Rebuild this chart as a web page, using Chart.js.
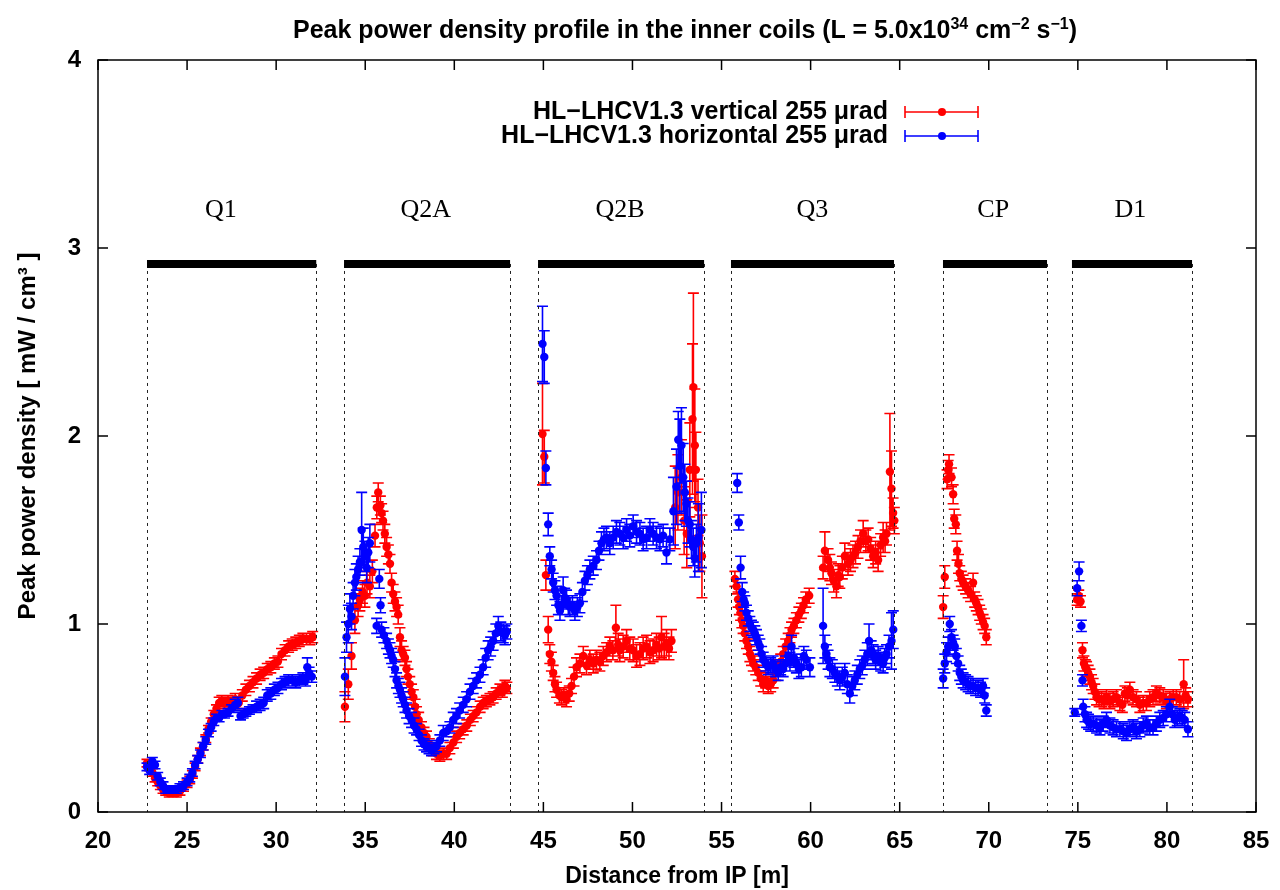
<!DOCTYPE html>
<html>
<head>
<meta charset="utf-8">
<script src="https://cdn.jsdelivr.net/npm/chart.js@4.4.1/dist/chart.umd.min.js"></script>
<style>
  body { margin: 0; background: #fff; }
  #wrap { position: relative; width: 1280px; height: 890px; }
  #title {
    position: absolute; top: 15px; left: 45px; width: 1280px;
    text-align: center; font: bold 25px 'Liberation Sans', Arial, sans-serif; color: #000;
  }
  #title sup { font-size: 16px; }
</style>
</head>
<body>
<div id="wrap">
  <canvas id="chart" width="1280" height="890"></canvas>
  <div id="title">Peak power density profile in the inner coils (L = 5.0x10<sup>34</sup> cm<sup>−2</sup> s<sup>−1</sup>)</div>
</div>
<script>
// Axis ticks
const xTicks = [20, 25, 30, 35, 40, 45, 50, 55, 60, 65, 70, 75, 80, 85];
const yTicks = [0, 1, 2, 3, 4];

// Magnets along the beam line [m]
const magnetNames = ['Q1', 'Q2A', 'Q2B', 'Q3', 'CP', 'D1'];
const magnetStart = [22.75, 33.81, 44.70, 55.53, 67.43, 74.67];
const magnetEnd   = [32.25, 43.13, 54.02, 64.68, 73.27, 81.41];
const magnetLabelX = [26.9, 38.4, 49.3, 60.1, 70.25, 77.95];
const magnetLevel = 2.915;
const magnetLabelLevel = 3.2;

// Series labels
const seriesNames = ['HL−LHCV1.3 vertical 255 μrad', 'HL−LHCV1.3 horizontal 255 μrad'];

// [distance, power density, error] -- vertical crossing
const verticalQ1 = [
  [22.75,0.26,0.02],[22.9,0.24,0.02],[23.05,0.21,0.02],[23.2,0.18,0.02],[23.35,0.16,0.02],[23.5,0.14,0.02],
  [23.65,0.12,0.02],[23.8,0.11,0.02],[24.0,0.10,0.02],[24.2,0.10,0.02],[24.4,0.10,0.02],[24.6,0.11,0.02],
  [24.8,0.13,0.02],[25.0,0.15,0.02],[25.15,0.17,0.02],[25.3,0.20,0.02],[25.45,0.24,0.02],[25.6,0.28,0.02],
  [25.75,0.32,0.02],[25.9,0.35,0.02],[26.05,0.39,0.02],[26.2,0.44,0.02],[26.35,0.48,0.02],[26.5,0.52,0.02],
  [26.65,0.55,0.02],[26.8,0.58,0.03],[26.95,0.59,0.03],[27.1,0.58,0.03],[27.3,0.59,0.03],[27.5,0.58,0.03],
  [27.7,0.60,0.03],[27.9,0.58,0.03],[28.1,0.62,0.03],[28.3,0.65,0.03],[28.5,0.67,0.03],[28.7,0.69,0.03],
  [28.9,0.71,0.03],[29.1,0.73,0.03],[29.3,0.74,0.03],[29.5,0.76,0.03],[29.7,0.77,0.03],[29.9,0.79,0.03],
  [30.1,0.80,0.03],[30.3,0.84,0.03],[30.5,0.86,0.03],[30.7,0.88,0.03],[30.9,0.89,0.03],[31.1,0.90,0.03],
  [31.3,0.91,0.03],[31.5,0.92,0.03],[31.7,0.92,0.03],[31.9,0.92,0.03],[32.05,0.93,0.03]
];
const verticalQ2A = [
  [33.86,0.56,0.08],[34.05,0.68,0.08],[34.23,0.83,0.07],[34.42,1.02,0.07],[34.6,1.10,0.06],[34.7,1.13,0.06],
  [34.85,1.17,0.06],[34.98,1.15,0.06],[35.1,1.22,0.06],[35.26,1.20,0.06],[35.4,1.28,0.06],[35.55,1.47,0.06],
  [35.65,1.62,0.06],[35.73,1.70,0.05],[35.85,1.63,0.05],[35.92,1.59,0.05],[36.0,1.55,0.05],[36.1,1.48,0.05],
  [36.2,1.41,0.05],[36.3,1.37,0.05],[36.39,1.32,0.05],[36.48,1.22,0.05],[36.57,1.16,0.05],[36.67,1.12,0.05],
  [36.76,1.09,0.05],[36.85,1.05,0.05],[36.95,0.93,0.05],[37.04,0.86,0.05],[37.13,0.84,0.04],[37.23,0.82,0.04],
  [37.32,0.76,0.04],[37.4,0.72,0.04],[37.5,0.68,0.04],[37.6,0.64,0.04],[37.7,0.61,0.04],[37.8,0.56,0.04],
  [37.88,0.52,0.04],[38.0,0.49,0.04],[38.16,0.45,0.03],[38.3,0.42,0.03],[38.44,0.40,0.03],[38.6,0.36,0.03],
  [38.82,0.33,0.03],[39.0,0.31,0.03],[39.19,0.30,0.03],[39.4,0.31,0.03],[39.57,0.31,0.03],[39.75,0.34,0.03],
  [39.95,0.37,0.03],[40.13,0.40,0.03],[40.3,0.42,0.03],[40.5,0.44,0.03],[40.7,0.46,0.03],[40.9,0.49,0.03],
  [41.06,0.51,0.03],[41.25,0.53,0.03],[41.45,0.56,0.03],[41.62,0.58,0.03],[41.8,0.59,0.03],[42.0,0.60,0.03],
  [42.18,0.61,0.03],[42.35,0.63,0.03],[42.56,0.65,0.03],[42.7,0.64,0.03],[42.84,0.67,0.03],[42.95,0.66,0.03]
];
const verticalQ2B = [
  [44.95,2.01,0.27],[45.05,1.89,0.14],[45.14,1.26,0.08],[45.27,0.97,0.07],[45.36,0.84,0.05],[45.45,0.80,0.05],
  [45.55,0.74,0.04],[45.65,0.68,0.04],[45.74,0.65,0.04],[45.9,0.62,0.04],[46.02,0.61,0.04],[46.15,0.62,0.04],
  [46.3,0.60,0.04],[46.45,0.63,0.04],[46.58,0.67,0.04],[46.72,0.72,0.05],[46.86,0.77,0.05],[47.05,0.79,0.05],
  [47.24,0.83,0.05],[47.42,0.78,0.05],[47.61,0.81,0.05],[47.8,0.79,0.05],[47.98,0.81,0.05],[48.17,0.80,0.05],
  [48.36,0.83,0.05],[48.55,0.85,0.05],[48.73,0.88,0.05],[48.9,0.86,0.05],[49.07,0.98,0.12],[49.2,0.89,0.06],
  [49.29,0.86,0.06],[49.48,0.88,0.06],[49.67,0.91,0.06],[49.85,0.87,0.06],[50.04,0.86,0.06],[50.23,0.83,0.06],
  [50.42,0.84,0.06],[50.6,0.87,0.06],[50.79,0.88,0.06],[50.98,0.85,0.06],[51.16,0.86,0.06],[51.35,0.89,0.06],
  [51.5,0.87,0.06],[51.63,0.93,0.11],[51.78,0.88,0.07],[51.91,0.90,0.07],[52.05,0.87,0.06],[52.19,0.91,0.06],
  [52.4,1.62,0.22],[52.55,1.70,0.20],[52.75,1.78,0.20],[52.9,1.55,0.18],[53.05,1.48,0.18],[53.22,1.82,0.25],
  [53.37,2.09,0.40],[53.42,2.26,0.50],[53.5,1.95,0.30],[53.56,1.82,0.20],[53.68,1.62,0.15],[53.78,1.43,0.15],
  [53.9,1.36,0.22]
];
const verticalQ3 = [
  [55.75,1.24,0.04],[55.84,1.20,0.04],[55.93,1.13,0.04],[56.0,1.09,0.04],[56.07,1.06,0.04],[56.14,1.02,0.04],
  [56.21,0.99,0.04],[56.3,0.95,0.04],[56.4,0.91,0.04],[56.5,0.88,0.04],[56.59,0.84,0.04],[56.68,0.82,0.04],
  [56.78,0.79,0.04],[56.92,0.77,0.04],[57.06,0.74,0.04],[57.2,0.71,0.04],[57.34,0.68,0.04],[57.48,0.70,0.04],
  [57.62,0.67,0.04],[57.76,0.68,0.04],[57.9,0.70,0.04],[58.04,0.74,0.04],[58.18,0.77,0.04],[58.32,0.80,0.04],
  [58.46,0.84,0.04],[58.6,0.88,0.04],[58.74,0.91,0.04],[58.84,0.94,0.04],[58.93,0.97,0.04],[59.06,0.99,0.04],
  [59.2,1.02,0.04],[59.34,1.05,0.04],[59.48,1.07,0.04],[59.6,1.10,0.04],[59.73,1.13,0.04],[59.92,1.15,0.04],
  [60.7,1.30,0.06],[60.8,1.39,0.10],[60.98,1.34,0.06],[61.08,1.30,0.07],[61.17,1.27,0.06],[61.3,1.23,0.06],
  [61.45,1.20,0.06],[61.55,1.26,0.06],[61.64,1.25,0.06],[61.78,1.30,0.06],[61.92,1.36,0.07],[62.1,1.32,0.06],
  [62.24,1.34,0.06],[62.38,1.36,0.06],[62.52,1.38,0.06],[62.66,1.41,0.06],[62.8,1.44,0.06],[62.95,1.48,0.07],
  [63.1,1.44,0.06],[63.23,1.45,0.06],[63.37,1.40,0.06],[63.51,1.36,0.06],[63.65,1.38,0.06],[63.79,1.34,0.06],
  [63.93,1.42,0.06],[64.07,1.46,0.08],[64.18,1.44,0.06],[64.26,1.48,0.06],[64.45,1.81,0.31],[64.54,1.72,0.20],
  [64.63,1.59,0.08],[64.7,1.55,0.07]
];
const verticalCP = [
  [67.44,1.09,0.06],[67.53,1.25,0.06],[67.66,1.77,0.05],[67.72,1.82,0.05],[67.77,1.85,0.05],[67.91,1.78,0.05],
  [68.0,1.69,0.05],[68.06,1.56,0.05],[68.15,1.53,0.05],[68.22,1.39,0.05],[68.3,1.32,0.05],[68.37,1.27,0.04],
  [68.46,1.24,0.04],[68.56,1.22,0.04],[68.7,1.20,0.04],[68.84,1.18,0.04],[68.98,1.16,0.04],[69.12,1.22,0.05],
  [69.21,1.13,0.04],[69.3,1.11,0.04],[69.4,1.09,0.04],[69.49,1.06,0.04],[69.58,1.04,0.04],[69.68,1.01,0.04],
  [69.77,0.99,0.04],[69.86,0.93,0.04]
];
const verticalD1 = [
  [74.96,1.13,0.03],[75.05,1.15,0.03],[75.15,1.12,0.03],[75.26,0.86,0.04],[75.34,0.79,0.04],[75.42,0.77,0.04],
  [75.49,0.76,0.04],[75.58,0.74,0.04],[75.68,0.72,0.04],[75.77,0.69,0.04],[75.86,0.67,0.04],[75.95,0.64,0.04],
  [76.05,0.61,0.04],[76.19,0.60,0.04],[76.33,0.60,0.04],[76.47,0.59,0.04],[76.61,0.61,0.04],[76.8,0.59,0.04],
  [76.98,0.60,0.04],[77.17,0.61,0.04],[77.36,0.58,0.04],[77.5,0.57,0.04],[77.64,0.63,0.04],[77.78,0.62,0.04],
  [77.92,0.65,0.04],[78.1,0.61,0.04],[78.29,0.60,0.04],[78.48,0.57,0.04],[78.67,0.58,0.04],[78.85,0.58,0.04],
  [79.04,0.60,0.04],[79.22,0.61,0.04],[79.41,0.63,0.04],[79.6,0.62,0.04],[79.79,0.61,0.04],[79.97,0.59,0.04],
  [80.16,0.60,0.04],[80.35,0.61,0.04],[80.53,0.61,0.04],[80.72,0.60,0.04],[80.94,0.68,0.13],[81.05,0.62,0.04],
  [81.18,0.60,0.04]
];

// [distance, power density, error] -- horizontal crossing
const horizontalQ1 = [
  [22.75,0.24,0.02],[22.9,0.22,0.02],[23.05,0.27,0.02],[23.2,0.25,0.02],[23.35,0.19,0.02],[23.5,0.16,0.02],
  [23.65,0.14,0.02],[23.8,0.12,0.02],[24.0,0.12,0.02],[24.2,0.12,0.02],[24.4,0.12,0.02],[24.6,0.13,0.02],
  [24.8,0.14,0.02],[25.0,0.16,0.02],[25.15,0.18,0.02],[25.3,0.21,0.02],[25.45,0.25,0.02],[25.6,0.28,0.02],
  [25.75,0.31,0.02],[25.9,0.35,0.02],[26.05,0.38,0.02],[26.2,0.42,0.02],[26.35,0.45,0.02],[26.5,0.48,0.02],
  [26.65,0.50,0.02],[26.8,0.50,0.02],[26.95,0.52,0.02],[27.1,0.52,0.02],[27.3,0.53,0.02],[27.5,0.55,0.02],
  [27.7,0.57,0.03],[27.85,0.58,0.03],[28.0,0.51,0.02],[28.15,0.52,0.02],[28.3,0.53,0.02],[28.5,0.54,0.02],
  [28.7,0.55,0.02],[28.9,0.56,0.03],[29.1,0.57,0.03],[29.3,0.58,0.03],[29.5,0.62,0.03],[29.7,0.63,0.03],
  [29.9,0.65,0.03],[30.1,0.66,0.03],[30.3,0.68,0.03],[30.5,0.69,0.03],[30.7,0.70,0.03],[30.9,0.70,0.03],
  [31.1,0.69,0.03],[31.3,0.70,0.03],[31.5,0.71,0.03],[31.65,0.70,0.03],[31.75,0.77,0.05],[31.85,0.74,0.03],
  [32.0,0.72,0.03]
];
const horizontalQ2A = [
  [33.86,0.72,0.10],[33.95,0.93,0.08],[34.05,1.00,0.10],[34.14,1.08,0.08],[34.23,1.04,0.07],[34.32,1.15,0.07],
  [34.42,1.22,0.07],[34.5,1.25,0.07],[34.6,1.29,0.07],[34.7,1.33,0.07],[34.8,1.50,0.20],[34.89,1.41,0.10],
  [34.98,1.36,0.08],[35.08,1.30,0.08],[35.17,1.38,0.08],[35.26,1.43,0.10],[35.64,0.99,0.04],[35.79,1.24,0.05],
  [35.86,1.10,0.04],[35.92,0.97,0.04],[36.05,0.94,0.04],[36.2,0.91,0.04],[36.3,0.88,0.04],[36.39,0.86,0.04],
  [36.48,0.83,0.04],[36.57,0.81,0.04],[36.67,0.76,0.04],[36.76,0.70,0.04],[36.86,0.67,0.04],[36.95,0.65,0.04],
  [37.04,0.62,0.04],[37.13,0.60,0.04],[37.23,0.57,0.04],[37.32,0.54,0.04],[37.46,0.51,0.04],[37.6,0.49,0.04],
  [37.74,0.46,0.04],[37.88,0.44,0.03],[38.02,0.41,0.03],[38.16,0.38,0.03],[38.3,0.36,0.03],[38.44,0.35,0.03],
  [38.58,0.34,0.03],[38.72,0.33,0.03],[38.86,0.34,0.03],[39.0,0.35,0.03],[39.19,0.38,0.03],[39.38,0.42,0.04],
  [39.57,0.43,0.03],[39.75,0.45,0.03],[39.94,0.49,0.04],[40.12,0.51,0.04],[40.3,0.54,0.04],[40.5,0.57,0.04],
  [40.69,0.60,0.04],[40.88,0.64,0.04],[41.06,0.67,0.04],[41.25,0.70,0.04],[41.44,0.73,0.04],[41.62,0.77,0.04],
  [41.76,0.82,0.05],[41.9,0.86,0.05],[42.04,0.88,0.05],[42.18,0.91,0.05],[42.33,0.95,0.05],[42.47,0.99,0.05],
  [42.61,0.96,0.05],[42.75,0.95,0.05],[42.84,0.94,0.05],[42.95,0.96,0.04]
];
const horizontalQ2B = [
  [44.95,2.49,0.20],[45.05,2.42,0.14],[45.14,1.83,0.09],[45.27,1.53,0.06],[45.36,1.36,0.05],[45.46,1.29,0.05],
  [45.55,1.22,0.05],[45.65,1.18,0.05],[45.74,1.15,0.05],[45.84,1.10,0.05],[45.93,1.07,0.05],[46.02,1.10,0.05],
  [46.11,1.18,0.07],[46.2,1.14,0.05],[46.3,1.13,0.05],[46.4,1.10,0.05],[46.49,1.09,0.05],[46.63,1.10,0.05],
  [46.77,1.07,0.05],[46.91,1.09,0.05],[47.05,1.11,0.05],[47.19,1.17,0.05],[47.33,1.23,0.05],[47.47,1.26,0.05],
  [47.61,1.29,0.05],[47.8,1.31,0.05],[47.98,1.34,0.05],[48.12,1.39,0.05],[48.26,1.43,0.06],[48.4,1.45,0.06],
  [48.54,1.46,0.06],[48.73,1.43,0.06],[48.92,1.46,0.06],[49.1,1.49,0.06],[49.29,1.48,0.06],[49.48,1.46,0.06],
  [49.67,1.50,0.06],[49.85,1.47,0.06],[50.04,1.52,0.06],[50.23,1.49,0.06],[50.42,1.48,0.06],[50.6,1.45,0.06],
  [50.79,1.46,0.06],[50.98,1.50,0.06],[51.16,1.48,0.06],[51.35,1.46,0.06],[51.54,1.45,0.06],[51.72,1.47,0.06],
  [51.91,1.38,0.06],[52.1,1.45,0.06],[52.3,1.60,0.18],[52.47,1.73,0.20],[52.57,1.98,0.15],[52.66,1.84,0.25],
  [52.75,1.95,0.20],[52.85,1.78,0.18],[52.94,1.70,0.15],[53.03,1.64,0.12],[53.12,1.55,0.12],[53.22,1.53,0.12],
  [53.31,1.45,0.10],[53.41,1.41,0.10],[53.5,1.35,0.10],[53.59,1.43,0.10],[53.7,1.46,0.18],[53.87,1.50,0.20]
];
const horizontalQ3 = [
  [55.88,1.75,0.05],[55.97,1.54,0.04],[56.07,1.30,0.06],[56.16,1.17,0.05],[56.24,1.13,0.04],[56.31,1.11,0.04],
  [56.4,1.06,0.04],[56.5,1.03,0.04],[56.59,1.00,0.04],[56.68,0.98,0.04],[56.78,0.97,0.04],[56.87,0.95,0.04],
  [56.96,0.93,0.04],[57.06,0.90,0.04],[57.15,0.88,0.04],[57.25,0.84,0.04],[57.34,0.81,0.04],[57.48,0.79,0.04],
  [57.62,0.77,0.04],[57.76,0.78,0.04],[57.9,0.79,0.04],[58.04,0.76,0.04],[58.18,0.74,0.04],[58.32,0.77,0.04],
  [58.46,0.76,0.04],[58.6,0.79,0.04],[58.74,0.83,0.05],[58.84,0.80,0.05],[58.93,0.88,0.06],[59.06,0.82,0.05],
  [59.2,0.79,0.05],[59.34,0.76,0.05],[59.48,0.77,0.05],[59.62,0.83,0.05],[59.76,0.81,0.05],[59.96,0.77,0.05],
  [60.7,0.99,0.20],[60.8,0.88,0.06],[60.89,0.84,0.05],[60.98,0.81,0.05],[61.08,0.77,0.05],[61.22,0.76,0.05],
  [61.36,0.74,0.05],[61.5,0.72,0.05],[61.64,0.70,0.05],[61.78,0.72,0.05],[61.92,0.74,0.05],[62.06,0.68,0.05],
  [62.2,0.63,0.05],[62.34,0.67,0.05],[62.48,0.70,0.05],[62.62,0.73,0.05],[62.76,0.76,0.05],[62.9,0.78,0.05],
  [63.04,0.81,0.05],[63.18,0.84,0.06],[63.28,0.91,0.09],[63.4,0.86,0.05],[63.51,0.84,0.05],[63.65,0.81,0.05],
  [63.79,0.83,0.05],[63.93,0.80,0.05],[64.07,0.79,0.05],[64.16,0.82,0.05],[64.26,0.84,0.05],[64.4,0.88,0.06],
  [64.54,0.91,0.15],[64.64,0.97,0.10]
];
const horizontalCP = [
  [67.44,0.71,0.05],[67.53,0.79,0.05],[67.63,0.85,0.05],[67.72,0.88,0.05],[67.81,1.00,0.04],[67.91,0.93,0.04],
  [68.0,0.90,0.04],[68.09,0.88,0.04],[68.18,0.83,0.04],[68.28,0.79,0.04],[68.37,0.74,0.04],[68.46,0.72,0.04],
  [68.56,0.70,0.04],[68.7,0.69,0.04],[68.84,0.68,0.04],[68.98,0.67,0.04],[69.12,0.67,0.04],[69.26,0.66,0.04],
  [69.4,0.66,0.04],[69.54,0.65,0.04],[69.68,0.67,0.04],[69.77,0.62,0.04],[69.86,0.54,0.03]
];
const horizontalD1 = [
  [74.83,0.53,0.02],[74.96,1.19,0.04],[75.07,1.28,0.05],[75.2,0.99,0.03],[75.26,0.70,0.03],[75.3,0.56,0.04],
  [75.4,0.52,0.04],[75.49,0.49,0.04],[75.6,0.48,0.04],[75.72,0.47,0.04],[75.86,0.47,0.04],[76.05,0.46,0.04],
  [76.24,0.45,0.04],[76.42,0.47,0.04],[76.61,0.49,0.04],[76.8,0.46,0.04],[76.98,0.45,0.04],[77.17,0.44,0.04],
  [77.36,0.44,0.04],[77.55,0.43,0.04],[77.73,0.42,0.04],[77.92,0.44,0.04],[78.1,0.45,0.04],[78.29,0.43,0.04],
  [78.48,0.44,0.04],[78.67,0.46,0.04],[78.85,0.47,0.04],[79.04,0.45,0.04],[79.22,0.45,0.04],[79.41,0.47,0.04],
  [79.6,0.49,0.04],[79.79,0.50,0.04],[79.97,0.52,0.04],[80.16,0.56,0.04],[80.3,0.52,0.04],[80.44,0.49,0.04],
  [80.58,0.50,0.04],[80.72,0.51,0.04],[80.86,0.50,0.04],[81.0,0.49,0.04],[81.18,0.44,0.04]
];

const toPoints = (rows) => rows.map(r => ({ x: r[0], y: r[1], err: r[2] }));

const verticalData = toPoints([].concat(verticalQ1, verticalQ2A, verticalQ2B, verticalQ3, verticalCP, verticalD1));
const horizontalData = toPoints([].concat(horizontalQ1, horizontalQ2A, horizontalQ2B, horizontalQ3, horizontalCP, horizontalD1));

const RED = '#ff0000';
const BLUE = '#0000ff';
const FONT = "'Liberation Sans', Arial, sans-serif";

// error bars, magnets, frame, inward ticks and key
const decorations = {
    id: 'decorations',
    beforeDatasetDraw(chart, args) {
        const ds = chart.data.datasets[args.index];
        const xs = chart.scales.x, ys = chart.scales.y;
        const ctx = chart.ctx;
        ctx.save();
        ctx.strokeStyle = ds.backgroundColor;
        ctx.lineWidth = 1.6;
        ctx.beginPath();
        ds.data.forEach(p => {
            const px = xs.getPixelForValue(p.x);
            const top = ys.getPixelForValue(p.y + p.err);
            const bot = ys.getPixelForValue(p.y - p.err);
            ctx.moveTo(px, top); ctx.lineTo(px, bot);
            ctx.moveTo(px - 5.5, top); ctx.lineTo(px + 5.5, top);
            ctx.moveTo(px - 5.5, bot); ctx.lineTo(px + 5.5, bot);
        });
        ctx.stroke();
        ctx.restore();
    },
    afterDraw(chart) {
        const ctx = chart.ctx;
        const xs = chart.scales.x, ys = chart.scales.y;
        const a = chart.chartArea;
        ctx.save();

        // magnet bars and boundaries
        const barY = ys.getPixelForValue(magnetLevel);
        const zeroY = ys.getPixelForValue(0);
        ctx.strokeStyle = '#222';
        ctx.lineWidth = 1;
        ctx.setLineDash([3, 4]);
        magnetNames.forEach((name, i) => {
            [magnetStart[i], magnetEnd[i]].forEach(v => {
                const px = Math.round(xs.getPixelForValue(v)) + 0.5;
                ctx.beginPath(); ctx.moveTo(px, barY); ctx.lineTo(px, zeroY); ctx.stroke();
            });
        });
        ctx.setLineDash([]);
        ctx.strokeStyle = '#000';
        ctx.lineWidth = 8;
        magnetNames.forEach((name, i) => {
            ctx.beginPath();
            ctx.moveTo(xs.getPixelForValue(magnetStart[i]), barY);
            ctx.lineTo(xs.getPixelForValue(magnetEnd[i]), barY);
            ctx.stroke();
        });
        ctx.fillStyle = '#000';
        ctx.font = "26px 'Liberation Serif', 'DejaVu Serif', serif";
        ctx.textAlign = 'center';
        ctx.textBaseline = 'middle';
        const labelY = ys.getPixelForValue(magnetLabelLevel);
        magnetNames.forEach((name, i) => {
            ctx.fillText(name, xs.getPixelForValue(magnetLabelX[i]), labelY);
        });

        // frame and inward ticks
        ctx.strokeStyle = '#000';
        ctx.lineWidth = 1.5;
        ctx.strokeRect(a.left, a.top, a.right - a.left, a.bottom - a.top);
        ctx.beginPath();
        xTicks.forEach(v => {
            const px = xs.getPixelForValue(v);
            ctx.moveTo(px, a.bottom); ctx.lineTo(px, a.bottom - 10);
            ctx.moveTo(px, a.top); ctx.lineTo(px, a.top + 10);
        });
        yTicks.forEach(v => {
            const py = ys.getPixelForValue(v);
            ctx.moveTo(a.left, py); ctx.lineTo(a.left + 10, py);
            ctx.moveTo(a.right, py); ctx.lineTo(a.right - 10, py);
        });
        ctx.stroke();

        // key
        const colors = [RED, BLUE];
        ctx.font = 'bold 25px ' + FONT;
        ctx.textAlign = 'right';
        seriesNames.forEach((name, i) => {
            const y = 112 + i * 24;
            ctx.fillStyle = '#000';
            ctx.fillText(name, 888, y);
            ctx.strokeStyle = colors[i];
            ctx.fillStyle = colors[i];
            ctx.lineWidth = 1.6;
            ctx.beginPath();
            ctx.moveTo(905, y); ctx.lineTo(978, y);
            ctx.moveTo(905, y - 6); ctx.lineTo(905, y + 6);
            ctx.moveTo(978, y - 6); ctx.lineTo(978, y + 6);
            ctx.stroke();
            ctx.beginPath(); ctx.arc(942, y, 4, 0, Math.PI * 2); ctx.fill();
        });
        ctx.restore();
    }
};

const ctx = document.getElementById('chart').getContext('2d');
new Chart(ctx, {
    type: 'scatter',
    data: {
        datasets: [
            {
                label: seriesNames[0],
                data: verticalData,
                backgroundColor: RED,
                borderColor: RED,
                pointRadius: 4.2,
                pointBorderWidth: 0,
                order: 1
            },
            {
                label: seriesNames[1],
                data: horizontalData,
                backgroundColor: BLUE,
                borderColor: BLUE,
                pointRadius: 4.2,
                pointBorderWidth: 0,
                order: 0
            }
        ]
    },
    options: {
        responsive: false,
        animation: false,
        devicePixelRatio: 1,
        layout: { padding: { top: 60, right: 24, left: 0, bottom: 0 } },
        plugins: {
            legend: { display: false },
            tooltip: { enabled: false }
        },
        scales: {
            x: {
                type: 'linear',
                min: 20,
                max: 85,
                afterFit: (s) => { s.height = 78; },
                afterBuildTicks: (s) => { s.ticks = xTicks.map(v => ({ value: v })); },
                ticks: { font: { size: 24, weight: 'bold', family: FONT }, color: '#000', padding: 7 },
                grid: { display: false },
                border: { display: false },
                title: {
                    display: true,
                    text: 'Distance from IP [m]',
                    font: { size: 23, weight: 'bold', family: FONT },
                    color: '#000',
                    padding: { top: 0, bottom: 0 }
                }
            },
            y: {
                min: 0,
                max: 4,
                afterFit: (s) => { s.width = 98; },
                afterBuildTicks: (s) => { s.ticks = yTicks.map(v => ({ value: v })); },
                ticks: { font: { size: 24, weight: 'bold', family: FONT }, color: '#000', padding: 9 },
                grid: { display: false },
                border: { display: false },
                title: {
                    display: true,
                    text: 'Peak power density [ mW / cm³ ]',
                    font: { size: 24, weight: 'bold', family: FONT },
                    color: '#000',
                    padding: { top: 14, bottom: 0 }
                }
            }
        }
    },
    plugins: [decorations]
});
</script>
</body>
</html>
